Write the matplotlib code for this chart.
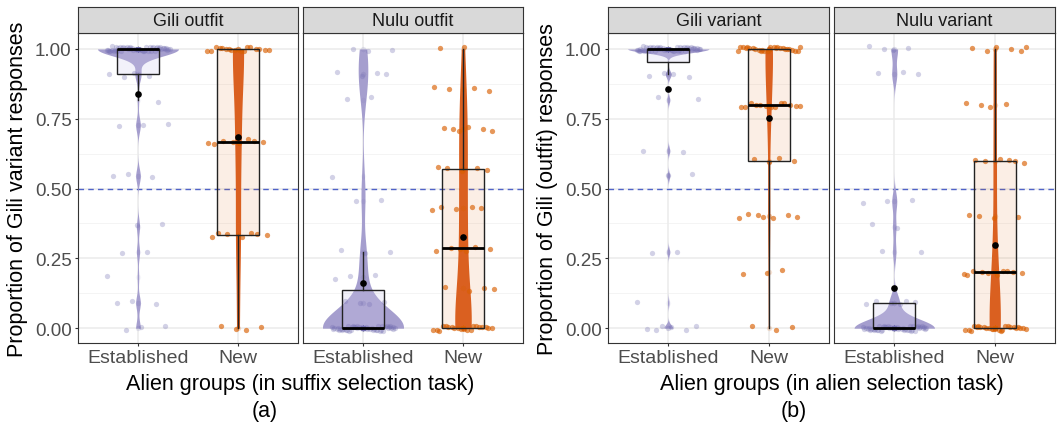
import numpy as np
import matplotlib
matplotlib.use("Agg")
import matplotlib.pyplot as plt
from matplotlib.cbook import boxplot_stats

plt.rcParams['font.family'] = ['Liberation Sans', 'DejaVu Sans']

# ---------------- data ----------------
groups = ["Established", "New"]
facets_a = ["Gili outfit", "Nulu outfit"]
facets_b = ["Gili variant", "Nulu variant"]
xlabel_a = "Alien groups (in suffix selection task)"
xlabel_b = "Alien groups (in alien selection task)"
ylabel_a = "Proportion of Gili variant responses"
ylabel_b = "Proportion of Gili (outfit) responses"
yticks = [0.0, 0.25, 0.5, 0.75, 1.0]
ytick_labels = ["0.00", "0.25", "0.50", "0.75", "1.00"]
chance_level = 0.5

levels_11 = [0.0, 0.091, 0.182, 0.273, 0.364, 0.455, 0.545, 0.636, 0.727, 0.818, 0.909, 1.0]
levels_7 = [0.0, 0.143, 0.286, 0.429, 0.571, 0.714, 0.857, 1.0]
levels_5 = [0.0, 0.2, 0.4, 0.6, 0.8, 1.0]
levels_3 = [0.0, 0.333, 0.667, 1.0]

# number of responses at each proportion level
counts_outfit_gili_est = [3, 3, 1, 2, 2, 0, 3, 0, 3, 1, 4, 53]
counts_outfit_gili_new = [4, 7, 8, 17]
counts_outfit_nulu_est = [49, 4, 3, 3, 0, 2, 1, 0, 0, 2, 4, 3]
counts_outfit_nulu_new = [20, 4, 6, 5, 5, 6, 4, 2]
counts_variant_gili_est = [6, 1, 0, 2, 0, 0, 2, 2, 0, 2, 4, 56]
counts_variant_gili_new = [3, 3, 7, 4, 13, 26]
counts_variant_nulu_est = [49, 6, 0, 2, 2, 3, 0, 0, 0, 0, 3, 4]
counts_variant_nulu_new = [25, 10, 4, 6, 4, 6]

# ---------------- styling ----------------
W, H = 1058, 439
C_VIOLIN = {"Established": "#A59ECE", "New": "#DA6020"}
C_POINT = {"Established": "#7570B3", "New": "#D95F02"}
A_POINT = {"Established": 0.32, "New": 0.65}
GRID_MAJOR = "#EBEBEB"
BORDER = "#333333"
# violin appearance per panel: (max width, bandwidth adjust) for Established / New
violin_style = [
    [((0.81, 1.0), (0.112, 1.0)), ((0.81, 1.7), (0.165, 1.0))],
    [((0.81, 1.0), (0.075, 1.0)), ((0.80, 1.25), (0.112, 1.0))],
]


def px_rect(x0, y0, x1, y1):
    return [x0 / W, 1 - y1 / H, (x1 - x0) / W, (y1 - y0) / H]


def nrd0(x):
    hi = np.std(x, ddof=1)
    q75, q25 = np.percentile(x, [75, 25])
    lo = min(hi, (q75 - q25) / 1.34)
    if lo == 0:
        lo = hi if hi > 0 else 1.0
    return 0.9 * lo * len(x) ** -0.2


def kde(x, grid, bw):
    z = (grid[:, None] - x[None, :]) / bw
    return np.exp(-0.5 * z ** 2).sum(1) / (len(x) * bw * np.sqrt(2 * np.pi))


def draw_facet(ax, datasets, title, strip_ax, show_y, vstyle):
    ax.set_xlim(0.4, 2.6)
    ax.set_ylim(-0.053, 1.057)
    ax.set_facecolor("white")
    # grid
    for y in [0.125, 0.375, 0.625, 0.875]:
        ax.axhline(y, color="#F2F2F2", lw=0.6, zorder=0)
    for y in yticks:
        ax.axhline(y, color=GRID_MAJOR, lw=1.1, zorder=0)
    for p in (1, 2):
        ax.axvline(p, color=GRID_MAJOR, lw=1.1, zorder=0)
    ax.axhline(chance_level, color="#5063C8", lw=1.0, ls=(0, (4, 3)), zorder=1.5)

    for i, (g, x) in enumerate(zip(groups, datasets)):
        pos = i + 1
        width, adjust = vstyle[i]
        grid = np.linspace(x.min(), x.max(), 512)
        dens = kde(x, grid, nrd0(x) * adjust)
        hw = dens / dens.max() * width / 2
        ax.fill_betweenx(grid, pos - hw, pos + hw, color=C_VIOLIN[g], lw=0, zorder=2)

        st = boxplot_stats(x, whis=1.5)
        fill_col = (0.816, 0.80, 0.925, 0.26) if g == "Established" else (0.851, 0.373, 0.008, 0.10)
        fz = 2.5 if g == "Established" else 1.8
        ax.bxp(st, positions=[pos], widths=0.42, showfliers=False, showcaps=False,
               patch_artist=True, manage_ticks=False,
               boxprops=dict(facecolor=fill_col, edgecolor="none", lw=0),
               whiskerprops=dict(lw=0), medianprops=dict(lw=0), zorder=fz)
        ax.bxp(st, positions=[pos], widths=0.42, showfliers=False, showcaps=False,
               patch_artist=True, manage_ticks=False,
               boxprops=dict(facecolor="none", edgecolor="#222222", lw=1.0),
               whiskerprops=dict(color="#222222", lw=1.0),
               medianprops=dict(color="black", lw=2.0, solid_capstyle="butt"), zorder=4)

        # jittered points (deterministic low-discrepancy spread)
        k = np.arange(len(x))
        jx = ((k * 0.6180339887 + 0.31 * (i + 1)) % 1 - 0.5) * 0.64
        jy = ((k * 0.7548776662 + 0.17) % 1 - 0.5) * 0.018
        ax.plot(pos + jx, x + jy, "o", ms=3.8, mew=0, color=C_POINT[g],
                alpha=A_POINT[g], zorder=3)
        # unjittered points stack on the centre line
        ax.plot(np.full(len(x), pos), x, "o", ms=3.8, mew=0, color=C_POINT[g],
                alpha=0.06, zorder=3)
        ax.plot([pos], [np.mean(x)], "o", ms=4.8, mew=0, color="black", zorder=5)

    for s in ax.spines.values():
        s.set_color(BORDER)
        s.set_linewidth(0.8)
    ax.set_xticks([1, 2])
    ax.set_xticklabels(groups, fontsize=14, color="#4D4D4D")
    ax.tick_params(axis="x", length=2.5, width=0.8, color=BORDER, pad=2)
    if show_y:
        ax.set_yticks(yticks)
        ax.set_yticklabels(ytick_labels, fontsize=13.5, color="#4D4D4D")
        ax.tick_params(axis="y", length=2.5, width=0.8, color=BORDER, pad=2)
    else:
        ax.set_yticks([])

    strip_ax.set_xticks([])
    strip_ax.set_yticks([])
    strip_ax.set_facecolor("#D9D9D9")
    for s in strip_ax.spines.values():
        s.set_color(BORDER)
        s.set_linewidth(0.8)
    strip_ax.text(0.5, 0.5, title, ha="center", va="center", fontsize=13,
                  color="#1A1A1A", transform=strip_ax.transAxes)


def expand(levels, counts):
    return np.repeat(np.array(levels, dtype=float), counts)


fig = plt.figure(figsize=(W / 100, H / 100), dpi=100)

layout = [
    ((78, 298), (303, 523)),
    ((608, 829), (834, 1055)),
]
panel_data = [
    [(expand(levels_11, counts_outfit_gili_est), expand(levels_3, counts_outfit_gili_new)),
     (expand(levels_11, counts_outfit_nulu_est), expand(levels_7, counts_outfit_nulu_new))],
    [(expand(levels_11, counts_variant_gili_est), expand(levels_5, counts_variant_gili_new)),
     (expand(levels_11, counts_variant_nulu_est), expand(levels_5, counts_variant_nulu_new))],
]
titles = [facets_a, facets_b]
xlabels = [xlabel_a, xlabel_b]
ylabels = [ylabel_a, ylabel_b]
sub_labels = ["(a)", "(b)"]
ylabel_x = [18, 548]
sub_centers = [265, 794]

for b in range(2):
    for f in range(2):
        x0, x1 = layout[b][f]
        ax = fig.add_axes(px_rect(x0, 34, x1, 344))
        sax = fig.add_axes(px_rect(x0, 8, x1, 34))
        draw_facet(ax, panel_data[b][f], titles[b][f], sax, show_y=(f == 0),
                   vstyle=violin_style[b][f])
    xc = (layout[b][0][0] + layout[b][1][1]) / 2
    fig.text(xc / W, 1 - 385 / H, xlabels[b], ha="center", va="center", fontsize=15.5, color="black")
    fig.text(ylabel_x[b] / W, 1 - 189 / H, ylabels[b], ha="center", va="center",
             rotation=90, fontsize=15.5, color="black")
    fig.text(sub_centers[b] / W, 1 - 412 / H, sub_labels[b], ha="center", va="center",
             fontsize=15.5, color="black")

fig.savefig("out.png", dpi=100)
